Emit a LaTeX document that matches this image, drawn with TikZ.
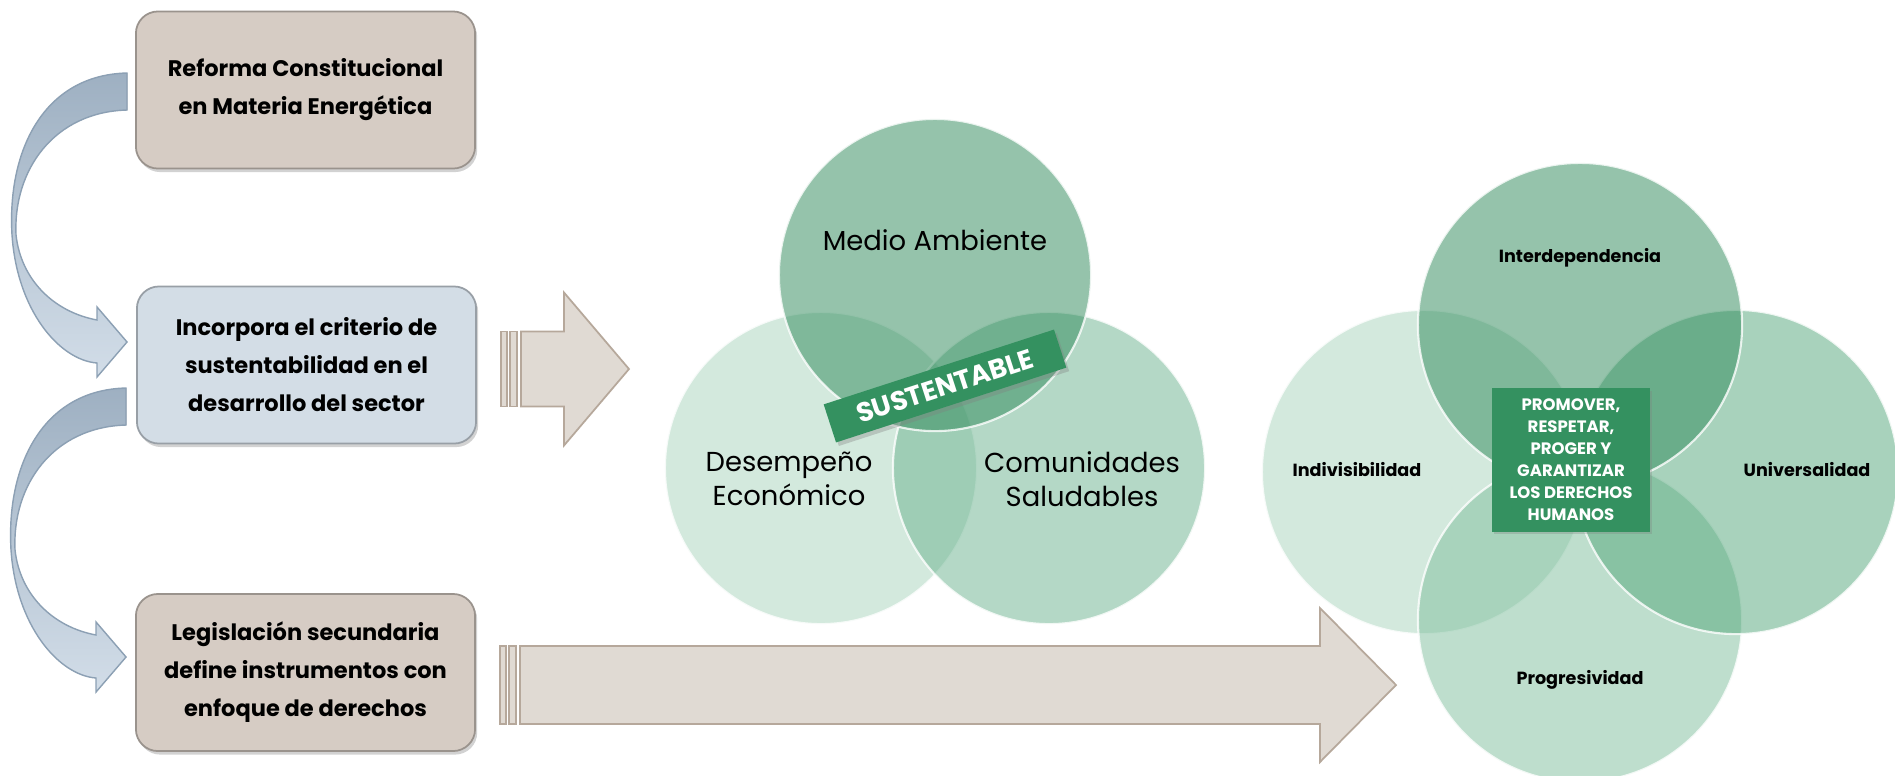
\documentclass[tikz,border=0pt]{standalone}
\usepackage{fontspec}
\setmainfont{Poppins}
\usetikzlibrary{calc,shadows}

\definecolor{cafe}{RGB}{214,204,196}
\definecolor{azul}{RGB}{211,221,230}
\definecolor{flechaC}{RGB}{224,218,211}
\definecolor{flechaL}{RGB}{182,168,155}
\definecolor{curvaA}{RGB}{158,176,194}
\definecolor{curvaB}{RGB}{210,221,232}
\definecolor{curvaL}{RGB}{140,160,180}
\definecolor{vsup}{RGB}{45,137,89}
\definecolor{vizq}{RGB}{169,213,189}
\definecolor{vder}{RGB}{107,179,143}
\definecolor{wder}{RGB}{83,167,123}
\definecolor{wabj}{RGB}{127,191,157}
\definecolor{verde}{RGB}{52,145,96}

\tikzset{
pics/curva/.style = {code = {
\fill[top color = curvaA, bottom color = curvaB, draw = curvaL, line width = 0.4pt]
(0,0) .. controls (-83,2) and (-120,77) .. (-115,162)
.. controls (-110,237) and (-68,287) .. (-30,290) -- (-30,304) -- (0,269) -- (-30,234) -- (-30,247)
.. controls (-73,239) and (-106,207) .. (-111,162)
.. controls (-114,97) and (-73,39) .. (0,37) -- cycle;
}},
pics/flecha/.style args = {#1/#2/#3/#4}{code = {
\begin{scope}[fill = flechaC, draw = flechaL, line width = 0.5pt, drop shadow = {opacity = 0.25, shadow xshift = 0.6pt, shadow yshift = -0.8pt}]
\filldraw (0,-#3) rectangle (6,#3);
\filldraw (9,-#3) rectangle (16,#3);
\filldraw (20,-#3) -- (#1,-#3) -- (#1,-#4) -- (#2,0) -- (#1,#4) -- (#1,#3) -- (20,#3) -- cycle;
\end{scope}
}}
}

\begin{document}
\begin{tikzpicture}[x = 0.01cm, y = -0.01cm,
caja/.style = {draw = #1!72!black, fill = #1, rounded corners = 2.2mm, line width = 0.5pt,
  minimum width = 3.39cm, minimum height = 1.57cm, align = center,
  font = \fontsize{6.4}{10.8}\selectfont\bfseries,
  drop shadow = {opacity = 0.35, shadow xshift = 0.6pt, shadow yshift = -1pt}},
venn/.style = {circle, minimum size = #1, inner sep = 0pt, draw = white, draw opacity = 0.8,
  line width = 0.6pt, fill opacity = 0.5},
etq/.style = {align = center, font = \fontsize{7.8}{9.7}\selectfont},
etqB/.style = {font = \fontsize{5}{6}\selectfont\bfseries},
cinta/.style = {fill = verde, text = white, minimum width = 2.42cm, minimum height = 0.40cm, inner sep = 0pt,
  font = \fontsize{7.7}{8}\selectfont\bfseries,
  drop shadow = {opacity = 0.35, shadow xshift = 0.8pt, shadow yshift = -1pt}},
centro/.style = {fill = verde, text = white, minimum width = 1.58cm, minimum height = 1.43cm, inner sep = 0pt,
  align = center, font = \fontsize{4.7}{6.26}\selectfont\bfseries,
  drop shadow = {opacity = 0.3, shadow xshift = 0.6pt, shadow yshift = -0.8pt}}
]
\fill[white] (0,0) rectangle (1895,775);
\useasboundingbox (0,0) rectangle (1895,775);

% columna de la izquierda
\node[caja = cafe] (ref) at (305.5,90) {Reforma Constitucional\\en Materia Energética};
\node[caja = azul] (inc) at (306.5,365) {Incorpora el criterio de\\sustentabilidad en el\\desarrollo del sector};
\node[caja = cafe] (leg) at (305.5,672.5) {Legislación secundaria\\define instrumentos con\\enfoque de derechos};

\pic at ($(ref.west)+(-8,-17)$) {curva};
\pic at ($(inc.west)+(-10,23)$) {curva};

% flechas grandes
\coordinate (m) at ($(inc.east)+(24,4)$);
\coordinate (b) at ($(leg.east)+(24,12.5)$);
\pic at (m) {flecha = 63/128/37.5/76.5};
\pic at (b) {flecha = 820/896/39/77};

% diagrama sustentable
\node[venn = 3.12cm, fill = vizq] (econ) at (821,468) {};
\node[venn = 3.12cm, fill = vder] (comu) at (1049,468) {};
\node[venn = 3.12cm, fill = vsup] (medio) at (935,275) {};
\node[etq] (tmedio) at ($(medio)+(0,-35)$) {Medio Ambiente};
\node[etq] (tecon) at ($(econ)+(-32,11)$) {Desempeño\\Económico};
\node[etq] (tcomu) at ($(comu)+(33,11)$) {Comunidades\\Saludables};
\node[cinta, rotate = 18] (sust) at (945,386) {SUSTENTABLE};

% diagrama de derechos
\node[venn = 3.24cm, fill = vizq] (indiv) at (1424,472) {};
\node[venn = 3.24cm, fill = wabj] (progr) at (1580,620) {};
\node[venn = 3.24cm, fill = wder] (univ) at (1736,472) {};
\node[venn = 3.24cm, fill = vsup] (inter) at (1580,325) {};
\node[etqB] (tinter) at ($(inter)+(0,-67)$) {Interdependencia};
\node[etqB] (tindiv) at ($(indiv)+(-67,-2)$) {Indivisibilidad};
\node[etqB] (tuniv) at ($(univ)+(71,-2)$) {Universalidad};
\node[etqB] (tprogr) at ($(progr)+(0,60)$) {Progresividad};
\node[centro] (ddhh) at (1571,460) {PROMOVER,\\RESPETAR,\\PROGER Y\\GARANTIZAR\\LOS DERECHOS\\HUMANOS};
\end{tikzpicture}
\end{document}
